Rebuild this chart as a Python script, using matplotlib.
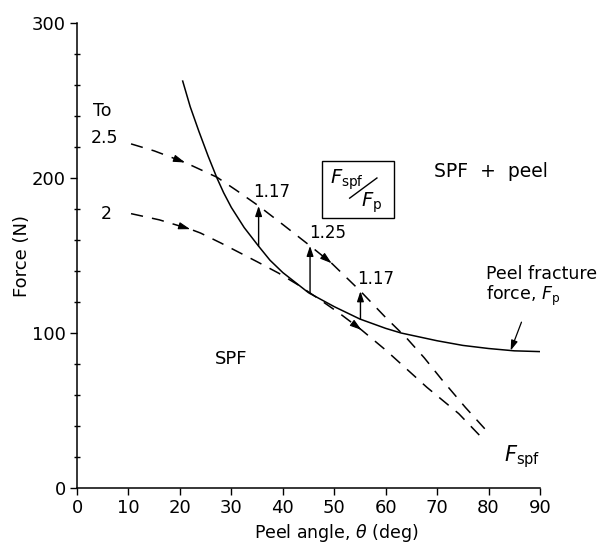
import numpy as np
import matplotlib
matplotlib.use("Agg")
import matplotlib.pyplot as plt
from matplotlib.patches import Rectangle
from matplotlib.ticker import MultipleLocator

plt.rcParams['font.family'] = ['DejaVu Sans']
plt.rcParams['mathtext.fontset'] = 'dejavusans'

# Peel fracture force F_p (solid)
fp_theta = [20.5, 22, 23.7, 25.5, 27.2, 28.5, 30, 32.5, 35.3, 37.5, 40, 45, 50, 55, 60, 63, 70, 75, 80, 85, 90]
fp_force = [263, 246, 230, 214, 200, 190.5, 181, 168, 156, 147, 139, 126, 117, 109, 103, 100, 95, 92, 90, 88.5, 88]

# F_spf, To = 2.5 (dashed, upper)
spf25_theta = [10.5, 15, 21, 27.2, 31, 35.3, 40, 45.4, 49.5, 55.1, 60, 64, 67.5, 70.9, 75.5, 79.6]
spf25_force = [222, 217.5, 210, 200.5, 192, 182, 170, 156, 145, 127, 110, 97, 84, 70, 52, 37]

# F_spf, To = 2 (dashed, lower)
spf2_theta = [10.5, 16, 22, 24, 28, 31.5, 35, 39.2, 43, 47, 50.9, 55.3, 60, 62.5, 68, 74.2, 79.4]
spf2_force = [177, 173, 167, 164.5, 158, 152, 146, 138.6, 131, 122, 113, 102, 89, 81.5, 65, 48, 30]

# direction arrowheads on dashed curves (peel angle positions)
arrows25 = [21, 49.5]
arrows2 = [22, 55.3]

# F_spf / F_p ratio arrows
ratio_theta = [35.3, 45.3, 55.1]
ratio_labels = ['1.17', '1.25', '1.17']

x_ticks = list(range(0, 91, 10))
y_major = [0, 100, 200, 300]

fig = plt.figure(figsize=(6.07, 5.46), dpi=100)
ax = fig.add_axes([0.1269, 0.1062, 0.7627, 0.8517])

lw = 1.1
ax.plot(fp_theta, fp_force, color='black', lw=lw, solid_capstyle='butt', solid_joinstyle='round')
ds = (0, (8, 6))
ax.plot(spf25_theta, spf25_force, color='black', lw=lw, linestyle=ds)
ax.plot(spf2_theta, spf2_force, color='black', lw=lw, linestyle=ds)

def head(th, xs, ys):
    y1 = np.interp(th, xs, ys)
    y0 = np.interp(th - 1.5, xs, ys)
    ax.annotate('', xy=(th, y1), xytext=(th - 1.5, y0),
                arrowprops=dict(arrowstyle='-|>,head_length=0.7,head_width=0.22',
                                color='black', lw=0.8, shrinkA=0, shrinkB=0))

for th in arrows25:
    head(th, spf25_theta, spf25_force)
for th in arrows2:
    head(th, spf2_theta, spf2_force)

label_off = [(2.5, 9), (3.5, 8), (3.0, 8)]
for th, lab, (dx, dy) in zip(ratio_theta, ratio_labels, label_off):
    yb = np.interp(th, fp_theta, fp_force)
    yt = np.interp(th, spf25_theta, spf25_force)
    ax.annotate('', xy=(th, yt), xytext=(th, yb),
                arrowprops=dict(arrowstyle='-|>,head_length=0.6,head_width=0.2',
                                color='black', lw=1.0, shrinkA=0, shrinkB=0))
    ax.text(th + dx, yt + dy, lab, fontsize=12, ha='center', va='center')

# ratio box
ax.add_patch(Rectangle((47.6, 174), 14.1, 37, fill=False, lw=1.0, ec='black'))
ax.text(49.2, 199, r'$F_{\mathrm{spf}}$', fontsize=14, ha='left', va='center')
ax.plot([53.0, 58.3], [187, 200], color='black', lw=1.0)
ax.text(55.3, 184, r'$F_{\mathrm{p}}$', fontsize=14, ha='left', va='center')

# region labels
ax.text(80.5, 204, 'SPF  +  peel', fontsize=13.5, ha='center', va='center', clip_on=False)
ax.text(30, 83, 'SPF', fontsize=13, ha='center', va='center')
ax.text(5, 243, 'To', fontsize=12.5, ha='center', va='center')
ax.text(5.4, 226, '2.5', fontsize=12.5, ha='center', va='center')
ax.text(5.6, 177, '2', fontsize=12.5, ha='center', va='center')
ax.text(79.6, 130, 'Peel fracture\nforce, $F_{\\mathrm{p}}$', fontsize=12.5,
        ha='left', va='center', linespacing=1.05, clip_on=False)
ax.annotate('', xy=(84.3, np.interp(84.3, fp_theta, fp_force)), xytext=(86.4, 107),
            arrowprops=dict(arrowstyle='-|>,head_length=0.6,head_width=0.2',
                            color='black', lw=0.9, shrinkA=0, shrinkB=0))
ax.text(83, 20, r'$F_{\mathrm{spf}}$', fontsize=15, ha='left', va='center')

ax.set_xlim(0, 90)
ax.set_ylim(0, 300)
ax.set_xticks(x_ticks)
ax.set_yticks(y_major)
ax.yaxis.set_minor_locator(MultipleLocator(20))
for s in ['top', 'right']:
    ax.spines[s].set_visible(False)
for s in ['left', 'bottom']:
    ax.spines[s].set_linewidth(1.1)
ax.tick_params(axis='both', which='major', direction='out', length=5, width=1.0,
               labelsize=13, pad=3)
ax.tick_params(axis='y', which='minor', direction='inout', length=5, width=1.0)

ax.text(0.56, -0.097, r'Peel angle, $\theta$ (deg)', transform=ax.transAxes,
        fontsize=12.5, ha='center', va='center')
ax.text(-0.119, 0.5, 'Force (N)', transform=ax.transAxes, rotation=90,
        fontsize=13, ha='center', va='center')

fig.savefig('out.png', dpi=100)
